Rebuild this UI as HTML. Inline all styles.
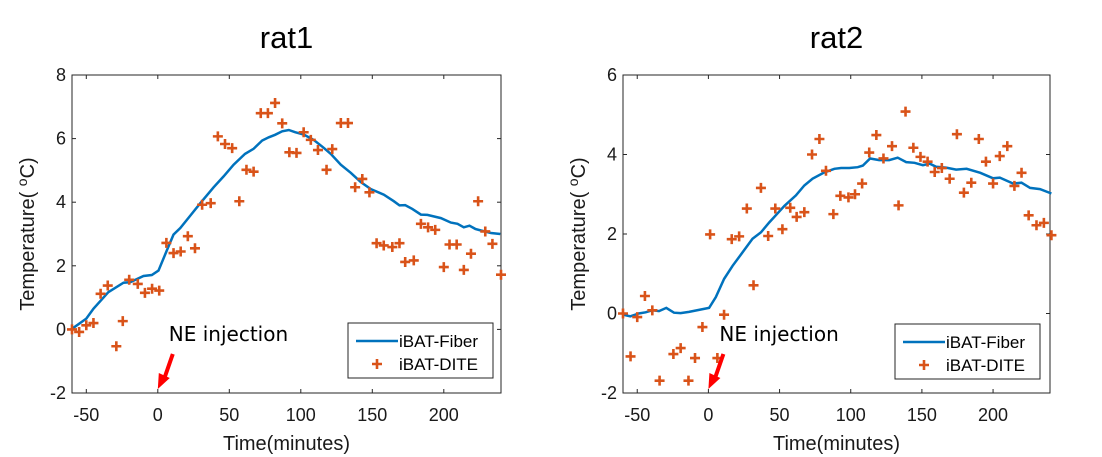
<!DOCTYPE html>
<html><head><meta charset="utf-8"><style>
html,body{margin:0;padding:0;background:#fff;}
svg{display:block;font-family:"Liberation Sans",sans-serif;}
</style></head><body>
<svg id="chart" width="1102" height="457" viewBox="0 0 1102 457" xmlns="http://www.w3.org/2000/svg"></svg>
<script>
const xTicks = [-50, 0, 50, 100, 150, 200];
const yTicks1 = [-2, 0, 2, 4, 6, 8];
const yTicks2 = [-2, 0, 2, 4, 6];
const fiberX1 = [-60,-50,-45,-34.6,-24,-19.4,-10,-4.2,0.5,6.3,11,15.7,22.7,29.7,39,46,53,61,67,73,77.6,82,87,91.6,96,102,109,116,121,128,135,142,149,158,165,169,173,178,184,188.5,198,205,209.6,214,218,222,226,233,239.5];
const fiberY1 = [0.02,0.34,0.65,1.17,1.47,1.48,1.68,1.71,1.85,2.48,2.98,3.19,3.58,3.97,4.47,4.81,5.18,5.52,5.68,5.94,6.04,6.12,6.23,6.27,6.2,6.13,5.96,5.71,5.52,5.18,4.92,4.63,4.41,4.24,4.03,3.9,3.91,3.79,3.61,3.6,3.5,3.36,3.32,3.21,3.26,3.16,3.11,3.03,3.0];
const diteX1 = [-60,-55,-50,-45,-40,-35,-29,-24.5,-20,-14,-9,-4,1,6,11,16,21,26,31,37,42,47,52,57,62,67,72,77,82,87,92,97,102,107,112,118,122,128,133,138,143,148,153,158,164,169,173,179,184,189,194,200,204,209,214,219,224,229,234,240];
const diteY1 = [0,-0.08,0.13,0.2,1.12,1.38,-0.53,0.26,1.56,1.43,1.15,1.28,1.22,2.72,2.4,2.45,2.93,2.55,3.92,3.97,6.07,5.83,5.7,4.03,5.02,4.96,6.8,6.8,7.12,6.48,5.57,5.55,6.2,5.96,5.64,5.02,5.67,6.49,6.49,4.47,4.73,4.31,2.71,2.64,2.59,2.71,2.12,2.17,3.32,3.21,3.13,1.96,2.67,2.67,1.87,2.38,4.03,3.08,2.69,1.72];
const fiberX2 = [-60,-54.9,-49,-44.1,-39.4,-34.7,-29.6,-24.2,-19.5,-13.6,-6.6,0.5,5.2,11,17,24,31,36.9,42.7,48.6,53.5,61.5,67.4,73.2,81.4,88.5,93.2,99,104.9,108.5,113.6,120,127,133,139,144.8,150.7,155.4,160,167,174,181.4,191,200,204.7,214,220,226,233,241];
const fiberY2 = [-0.03,-0.07,0,0.03,0.08,0.06,0.14,0.02,0.01,0.04,0.09,0.14,0.41,0.87,1.2,1.54,1.88,2.04,2.29,2.52,2.71,2.97,3.22,3.39,3.55,3.64,3.66,3.66,3.68,3.72,3.9,3.86,3.86,3.92,3.81,3.79,3.73,3.77,3.69,3.67,3.62,3.64,3.54,3.4,3.42,3.27,3.29,3.16,3.13,3.02];
const diteX2 = [-60,-54.7,-50,-44.6,-39.4,-34.3,-24.6,-19.5,-14,-9.4,-4.2,1.2,6.3,11,16.4,21.6,27,31.7,36.9,42,47,52,57.5,62,67.4,72.8,78,82.6,87.8,92.7,98.4,103,108,113,118,123,129,133.6,138.5,144,149,154,159,164,169.5,174.6,179.5,184.7,190,195,200,204.7,210,215,220,225,230.5,235.7,241];
const diteY2 = [0,-1.08,-0.09,0.44,0.08,-1.69,-1.02,-0.87,-1.69,-1.12,-0.34,1.99,-1.12,-0.03,1.87,1.94,2.64,0.71,3.16,1.95,2.64,2.12,2.66,2.43,2.55,4.0,4.39,3.59,2.5,2.96,2.92,3.0,3.27,4.05,4.49,3.9,4.21,2.72,5.08,4.17,3.94,3.82,3.56,3.66,3.39,4.51,3.04,3.29,4.39,3.82,3.27,3.96,4.21,3.21,3.54,2.47,2.22,2.28,1.97];

const NS = 'http://www.w3.org/2000/svg';
const svg = document.getElementById('chart');
function mk(tag, attrs, parent, txt){
  const e = document.createElementNS(NS, tag);
  for (const k in attrs) e.setAttribute(k, attrs[k]);
  if (txt !== undefined) e.textContent = txt;
  (parent || svg).appendChild(e);
  return e;
}
function panel(id, L, R, T, B, yMin, yMax, yTicks, fx, fy, dx, dy, title, legX, legY){
  const g = mk('g', {});
  
  
  const sx = v => L + (v + 60) / 300 * (R - L);
  const sy = v => B - (v - yMin) / (yMax - yMin) * (B - T);
  const t = mk('text', {x: (L + R) / 2, y: 48, 'text-anchor': 'middle', 'font-size': 31, fill: '#000'}, g, title);
  
  
  const box = mk('rect', {x: L, y: T, width: R - L, height: B - T, fill: 'none', stroke: '#262626', 'stroke-width': 1}, g);
  
  
  xTicks.forEach(v => {
    const x = sx(v);
    mk('line', {x1: x, x2: x, y1: B, y2: B - 4, stroke: '#262626'}, g);
    mk('line', {x1: x, x2: x, y1: T, y2: T + 4, stroke: '#262626'}, g);
    const l = mk('text', {x: x, y: 421, 'text-anchor': 'middle', 'font-size': 18, fill: '#1a1a1a'}, g, String(v));
    
    
  });
  yTicks.forEach(v => {
    const y = sy(v);
    mk('line', {x1: L, x2: L + 4, y1: y, y2: y, stroke: '#262626'}, g);
    mk('line', {x1: R, x2: R - 4, y1: y, y2: y, stroke: '#262626'}, g);
    const l = mk('text', {x: L - 6, y: y + 6, 'text-anchor': 'end', 'font-size': 18, fill: '#1a1a1a'}, g, String(v));
    
    
  });
  const xl = mk('text', {x: (L + R) / 2, y: 450, 'text-anchor': 'middle', 'font-size': 20, fill: '#1a1a1a'}, g, 'Time(minutes)');
  
  
  const yc = (T + B) / 2;
  const yl = mk('text', {x: L - 38, y: yc, 'text-anchor': 'middle', 'font-size': 20, fill: '#1a1a1a', transform: 'rotate(-90 ' + (L - 38) + ' ' + yc + ')'}, g);
  
  
  mk('tspan', {}, yl, 'Temperature( ');
  mk('tspan', {dy: -7, 'font-size': 14}, yl, 'o');
  mk('tspan', {dy: 7}, yl, 'C)');
  let d = '';
  fx.forEach((v, i) => { d += (i ? 'L' : 'M') + sx(v).toFixed(1) + ' ' + sy(fy[i]).toFixed(1); });
  const p = mk('path', {d: d, fill: 'none', stroke: '#0072BD', 'stroke-width': 2.5}, g);
  
  
  dx.forEach((v, i) => {
    const x = sx(v), y = sy(dy[i]);
    const m = mk('path', {d: 'M' + (x - 5) + ' ' + y + 'H' + (x + 5) + 'M' + x + ' ' + (y - 5) + 'V' + (y + 5), stroke: '#D95319', 'stroke-width': 2.6}, g);
    
    
  });
  const nx = sx(0);
  const nt = mk('text', {x: nx + 11, y: 341, 'font-size': 20, fill: '#000', 'font-family': 'DejaVu Sans, sans-serif'}, g, 'NE injection');
  
  
  const ar = mk('g', {}, g);
  
  
  mk('line', {x1: nx + 15, y1: 354, x2: nx + 7, y2: 377, stroke: '#FF0000', 'stroke-width': 4}, ar);
  mk('polygon', {points: (nx) + ',389 ' + (nx + 1) + ',373 ' + (nx + 12) + ',378', fill: '#FF0000'}, ar);
  const lg = mk('g', {}, g);
  
  
  mk('rect', {x: legX, y: legY, width: 145, height: 55, fill: '#fff', stroke: '#262626'}, lg);
  mk('line', {x1: legX + 8, x2: legX + 50, y1: legY + 18, y2: legY + 18, stroke: '#0072BD', 'stroke-width': 2.5}, lg);
  mk('text', {x: legX + 51, y: legY + 24, 'font-size': 17, fill: '#000'}, lg, 'iBAT-Fiber');
  const cx = legX + 29, cy = legY + 41;
  mk('path', {d: 'M' + (cx - 5) + ' ' + cy + 'H' + (cx + 5) + 'M' + cx + ' ' + (cy - 5) + 'V' + (cy + 5), stroke: '#D95319', 'stroke-width': 2.6}, lg);
  mk('text', {x: legX + 51, y: legY + 47, 'font-size': 17, fill: '#000'}, lg, 'iBAT-DITE');
}
panel('rat1', 72, 501, 75, 393, -2, 8, yTicks1, fiberX1, fiberY1, diteX1, diteY1, 'rat1', 348, 323);
panel('rat2', 623, 1050, 75, 393, -2, 6, yTicks2, fiberX2, fiberY2, diteX2, diteY2, 'rat2', 895, 324);
</script>
</body></html>
